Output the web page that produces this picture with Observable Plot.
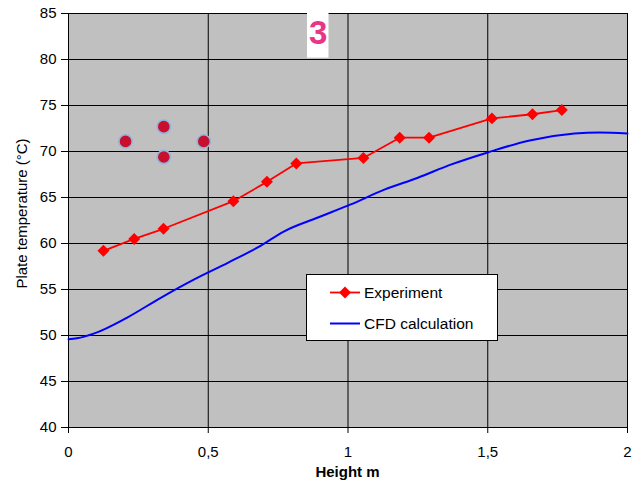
<!DOCTYPE html>
<html>
<head>
<meta charset="utf-8">
<script src="https://cdn.jsdelivr.net/npm/d3@7"></script>
<script src="https://cdn.jsdelivr.net/npm/@observablehq/plot@0.6"></script>
<style>
  body { margin: 0; background: #fff; }
  #chart svg { display: block; }
</style>
</head>
<body>
<div id="chart"></div>
<script>
// Measured plate temperature along the plate height
const expHeight = [0.125, 0.235, 0.34, 0.59, 0.71, 0.815, 1.055, 1.185, 1.29, 1.515, 1.66, 1.765];
const expTemp   = [59.2, 60.5, 61.6, 64.6, 66.7, 68.7, 69.3, 71.5, 71.5, 73.6, 74.05, 74.5];

// CFD prediction of the same profile
const cfdHeight = [0, 0.03, 0.09, 0.21, 0.33, 0.45, 0.57, 0.69, 0.77, 0.89, 1.01, 1.13, 1.25, 1.37, 1.5, 1.65, 1.81, 1.9, 2.0];
const cfdTemp   = [49.6, 49.7, 50.2, 51.95, 54.1, 56.1, 57.9, 59.8, 61.3, 62.8, 64.25, 65.85, 67.15, 68.6, 69.9, 71.2, 71.95, 72.07, 71.95];

// Sensor position marks (red discs)
const sensorHeight = [0.204, 0.341, 0.341, 0.484];
const sensorTemp   = [71.1, 72.7, 69.4, 71.1];

// Axis ticks
const xTicks = [0, 0.5, 1, 1.5, 2];
const yTicks = [40, 45, 50, 55, 60, 65, 70, 75, 80, 85];

// Series names and colours
const seriesNames  = ["Experiment", "CFD calculation"];
const seriesColors = ["#ff0000", "#0000ff"];

// Panel number badge
const panelText = ["3"];
const panelX = [0.855, 0.932];
const panelY = [80.15, 85];

const xLabel = "Height m";
const yLabel = "Plate temperature (°C)";

const font = "Arial, 'Liberation Sans', sans-serif";

const experiment = expHeight.map((h, i) => ({h, t: expTemp[i]}));
const cfd = cfdHeight.map((h, i) => ({h, t: cfdTemp[i]}));
const sensors = sensorHeight.map((h, i) => ({h, t: sensorTemp[i]}));
const badge = [{x1: panelX[0], x2: panelX[1], y1: panelY[0], y2: panelY[1], text: panelText[0]}];

const commaFormat = d => String(d).replace(".", ",");

const svg = Plot.plot({
  width: 632,
  height: 481,
  marginLeft: 68,
  marginRight: 5,
  marginTop: 13,
  marginBottom: 54,
  style: {fontFamily: font, fontSize: "15px", background: "white", color: "#000"},
  x: {domain: [0, 2]},
  y: {domain: [40, 85]},
  marks: [
    Plot.frame({fill: "#c0c0c0"}),
    Plot.gridX(xTicks, {stroke: "#000", strokeOpacity: 1, strokeWidth: 1}),
    Plot.gridY(yTicks, {stroke: "#000", strokeOpacity: 1, strokeWidth: 1}),
    Plot.frame({stroke: "#000"}),
    Plot.axisX(xTicks, {tickSize: 6, tickPadding: 13, tickFormat: commaFormat, label: null}),
    Plot.axisY(yTicks, {tickSize: 7, tickPadding: 5, label: null}),
    Plot.rect(badge, {x1: "x1", x2: "x2", y1: "y1", y2: "y2", fill: "white"}),
    Plot.text(badge, {
      x: d => (d.x1 + d.x2) / 2, y: d => (d.y1 + d.y2) / 2 + 0.3, text: "text",
      fill: "#e8358a", fontSize: 33, fontWeight: "bold", fontFamily: font
    }),
    Plot.line(cfd, {x: "h", y: "t", stroke: seriesColors[1], strokeWidth: 2, curve: "monotone-x"}),
    Plot.line(experiment, {x: "h", y: "t", stroke: seriesColors[0], strokeWidth: 1.8}),
    Plot.dot(experiment, {x: "h", y: "t", symbol: "diamond2", r: 5.4, fill: seriesColors[0]}),
    Plot.dot(sensors, {x: "h", y: "t", r: 6.6, fill: "#c8102e", stroke: "#93b3da", strokeWidth: 1.6})
  ]
});

const root = d3.select(svg);

// Axis titles
root.append("text")
  .attr("x", 347.5).attr("y", 477)
  .attr("text-anchor", "middle")
  .attr("font-family", font).attr("font-size", 15).attr("font-weight", "bold")
  .attr("fill", "#000")
  .text(xLabel);

root.append("text")
  .attr("transform", "translate(26.5,213.5) rotate(-90)")
  .attr("text-anchor", "middle")
  .attr("font-family", font).attr("font-size", 15)
  .attr("fill", "#000")
  .text(yLabel);

// Legend box
const legend = root.append("g").attr("transform", "translate(306.5,274.5)");
legend.append("rect")
  .attr("width", 191).attr("height", 66)
  .attr("fill", "white").attr("stroke", "#000").attr("stroke-width", 1);

const rows = [18, 49];
seriesNames.forEach((name, i) => {
  const g = legend.append("g").attr("transform", `translate(0,${rows[i]})`);
  g.append("line")
    .attr("x1", 23.5).attr("x2", 53.5).attr("y1", 0).attr("y2", 0)
    .attr("stroke", seriesColors[i]).attr("stroke-width", i === 0 ? 1.8 : 2);
  if (i === 0) {
    g.append("path")
      .attr("transform", "translate(38.5,0)")
      .attr("d", d3.symbol(d3.symbolDiamond2, Math.PI * 5.4 * 5.4)())
      .attr("fill", seriesColors[i]);
  }
  g.append("text")
    .attr("x", 57.5).attr("y", 5.2)
    .attr("text-anchor", "start")
    .attr("font-family", font).attr("font-size", 15.5)
    .attr("fill", "#000")
    .text(name);
});

document.getElementById("chart").appendChild(svg);
</script>
</body>
</html>
